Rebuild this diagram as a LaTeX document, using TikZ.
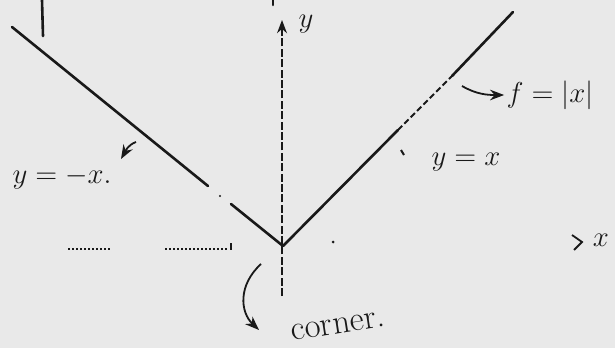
\documentclass[tikz,border=0pt]{standalone}
\usetikzlibrary{arrows.meta, positioning}
\definecolor{paper}{RGB}{233,233,233}
\definecolor{pencil}{RGB}{25,25,25}

\begin{document}
\begin{tikzpicture} [
      x=0.5pt, y=-0.5pt,
      font=\Large,
      >=Stealth,
      graph/.style={line width=1.3pt, draw=pencil, line cap=round},
      faint/.style={line width=0.9pt, draw=pencil, dash pattern=on 3pt off 1.5pt},
      axis/.style={line width=0.8pt, draw=pencil, dash pattern=on 4pt off 1.2pt},
      dots/.style={line width=0.8pt, draw=pencil, dash pattern=on 1pt off 1pt},
      hint/.style={->, line width=0.9pt, draw=pencil},
      lbl/.style={text=pencil, inner sep=1pt}
  ]
  \fill[paper] (0,0) rectangle (615,348);
  \useasboundingbox (0,0) rectangle (615,348);

  % points of the graph
  \coordinate (corner) at (283,246);
  \coordinate (lend) at (12,27);
  \coordinate (rend) at (513,12);
  \coordinate (lgapa) at (208,186);
  \coordinate (lgapb) at (231,204);
  \coordinate (rdasha) at (398,130);
  \coordinate (rdashb) at (452,76);
  \coordinate (ytop) at (282,20);
  \coordinate (ybot) at (282,296);

  % axes
  \draw[axis, ->] (ybot) -- (ytop);
  \draw[dots] (68,249) -- (112,249);
  \draw[dots] (165,249) -- (228,249);
  \draw[line width=1.2pt, pencil] (231,243) -- (231,250);
  \draw[line width=0.9pt, pencil] (572,235) -- (582,242) -- (574,250);

  % f = |x|
  \draw[graph] (lend) -- (lgapa);
  \draw[graph] (lgapb) -- (corner);
  \draw[graph] (corner) -- (rdasha);
  \draw[faint] (rdasha) -- (rdashb);
  \draw[graph] (rdashb) -- (rend);

  % stray marks
  \draw[graph] (42,0) -- (43,36);
  \draw[graph] (273,0) -- (273,5);
  \fill[pencil] (220,196) circle (1.2);
  \fill[pencil] (333,242) circle (1.5);
  \draw[line width=1pt, pencil] (401,150) -- (404,155);

  % labels
  \node[lbl] (ylab) at (306,24) {$y$};
  \node[lbl] (xlab) at (601,240) {$x$};
  \node[lbl] (fabs) at (550,95) {$f = |x|$};
  \node[lbl] (ypos) at (466,162) {$y = x$};
  \node[lbl] (yneg) at (62,178) {$y = -x$.};
  \node[lbl, rotate=9, font=\LARGE] (cornerlab) at (338,326) {corner.};

  \coordinate (fsq) at (462,86);
  \draw[hint] (fsq) to[out=-30, in=180] (fabs.west);
  \coordinate (negsq) at (136,142);
  \draw[hint] (negsq) to[out=200, in=60] (121,159);
  \coordinate (csq) at (261,264);
  \coordinate (cend) at (259,330);
  \draw[hint] (csq) .. controls (238,285) and (240,312) .. (cend);
\end{tikzpicture}
\end{document}
